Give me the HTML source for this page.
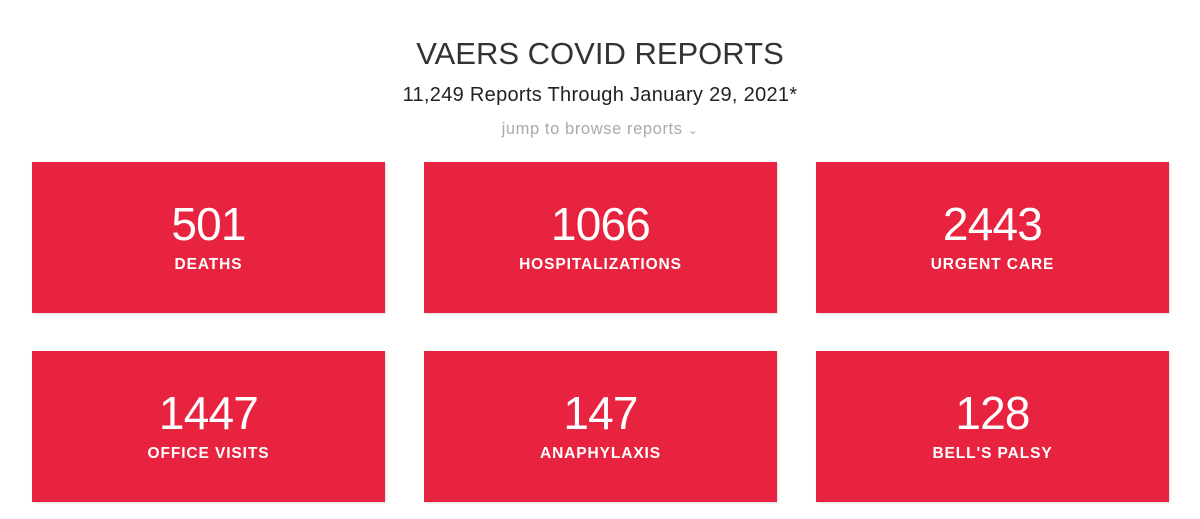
<!DOCTYPE html>
<html><head><meta charset="utf-8">
<style>
body{margin:0;width:1200px;height:519px;background:#fff;font-family:"Liberation Sans",sans-serif;position:relative;overflow:hidden}
.t{position:absolute;left:0;width:1200px;text-align:center}
#title{top:36px;font-size:31px;color:#333;letter-spacing:0}
#sub{top:84px;font-size:20px;color:#222;letter-spacing:0.3px}
#jump{top:120px;font-size:16.5px;color:#aaa;letter-spacing:0.6px}
.card{position:absolute;width:353px;height:151px;background:#e8233f;color:#fff;text-align:center;box-shadow:1px 1px 2px rgba(0,0,0,0.15)}
.num{position:absolute;top:35px;left:0;width:100%;font-size:46px;letter-spacing:-0.8px}
.lab{position:absolute;top:94px;left:0;width:100%;font-size:15.5px;font-weight:bold;letter-spacing:0.9px}
</style></head><body>
<div class="t" id="title">VAERS COVID REPORTS</div>
<div class="t" id="sub">11,249 Reports Through January 29, 2021*</div>
<div class="t" id="jump">jump to browse reports <span style="font-size:12px">&#8964;</span></div>

<div class="card" style="left:32px;top:162px"><div class="num">501</div><div class="lab">DEATHS</div></div>
<div class="card" style="left:424px;top:162px"><div class="num">1066</div><div class="lab">HOSPITALIZATIONS</div></div>
<div class="card" style="left:816px;top:162px"><div class="num">2443</div><div class="lab">URGENT CARE</div></div>
<div class="card" style="left:32px;top:351px"><div class="num">1447</div><div class="lab">OFFICE VISITS</div></div>
<div class="card" style="left:424px;top:351px"><div class="num">147</div><div class="lab">ANAPHYLAXIS</div></div>
<div class="card" style="left:816px;top:351px"><div class="num">128</div><div class="lab">BELL'S PALSY</div></div>
</body></html>
